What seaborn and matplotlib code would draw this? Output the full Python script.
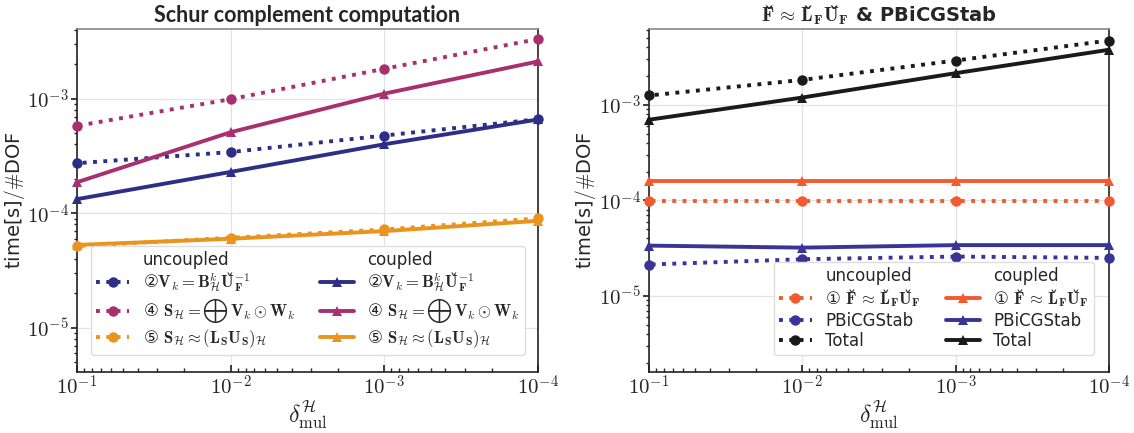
import numpy as np
import pandas as pd
import matplotlib
matplotlib.use("Agg")
import matplotlib.pyplot as plt
from matplotlib.lines import Line2D
import seaborn as sns

# ---------------- data ----------------
delta = [1e-1, 1e-2, 1e-3, 1e-4]

# left panel: Schur complement computation
unc_V = [2.74e-4, 3.43e-4, 4.78e-4, 6.64e-4]
unc_S = [5.81e-4, 9.93e-4, 1.83e-3, 3.33e-3]
unc_LU = [5.18e-5, 6.12e-5, 7.24e-5, 9.04e-5]
cou_V = [1.33e-4, 2.30e-4, 4.01e-4, 6.60e-4]
cou_S = [1.87e-4, 5.11e-4, 1.11e-3, 2.12e-3]
cou_LU = [5.30e-5, 6.00e-5, 7.00e-5, 8.60e-5]

# right panel: F ~ LU & PBiCGStab
unc_F = [9.8e-5, 9.8e-5, 9.8e-5, 9.8e-5]
unc_P = [2.13e-5, 2.42e-5, 2.58e-5, 2.50e-5]
unc_T = [1.25e-3, 1.82e-3, 2.90e-3, 4.70e-3]
cou_F = [1.58e-4, 1.58e-4, 1.58e-4, 1.58e-4]
cou_P = [3.36e-5, 3.20e-5, 3.40e-5, 3.40e-5]
cou_T = [6.97e-4, 1.19e-3, 2.14e-3, 3.76e-3]

CARON = "\u030C"  # combining caron, placed right after the bold letter
lbl_V = ("②$\\mathbf{V}_k = \\mathbf{B}^k_{\\mathcal{H}}\\mathbf{U}$" + CARON +
         "$_{\\mathbf{F}}^{-1}$")
lbl_S = r"④ $\mathbf{S}_{\mathcal{H}} = \bigoplus\,\mathbf{V}_k \odot \mathbf{W}_k$"
lbl_LU = r"⑤ $\mathbf{S}_{\mathcal{H}} \approx (\mathbf{L}_{\mathbf{S}}\mathbf{U}_{\mathbf{S}})_{\mathcal{H}}$"
FLU = ("$\\mathbf{F}$" + CARON + "$\\,\\approx\\,\\mathbf{L}$" + CARON +
       "$_{\\mathbf{F}}\\mathbf{U}$" + CARON + "$_{\\mathbf{F}}$")
lbl_F = "① " + FLU
lbl_P = "PBiCGStab"
lbl_T = "Total"

title_left = "Schur complement computation"
title_right = FLU + " & PBiCGStab"

c_blue = "#2c2f85"
c_mag = "#a8306e"
c_ora = "#e8941e"
c_red = "#f25a30"
c_pur = "#3a3496"
c_blk = "#1a1a1a"

# ---------------- style ----------------
sns.set_theme(style="whitegrid")
plt.rcParams["font.family"] = ["DejaVu Sans"]
plt.rcParams["mathtext.fontset"] = "cm"
plt.rcParams["axes.edgecolor"] = "#222222"
plt.rcParams["grid.color"] = "#e3e3e3"

fig = plt.figure(figsize=(11.34, 4.33), dpi=100)
axL = fig.add_axes([0.0679, 0.1409, 0.4065, 0.7921])
axR = fig.add_axes([0.5723, 0.1409, 0.4056, 0.7921])

lw = 2.8
ms = 7.5


def draw(ax, y, color, coupled):
    df = pd.DataFrame({"x": delta, "y": y})
    sns.lineplot(data=df, x="x", y="y", ax=ax, color=color,
                 linestyle="-" if coupled else ":",
                 marker="^" if coupled else "o",
                 markersize=ms, markeredgewidth=0, linewidth=lw,
                 legend=False, zorder=3, clip_on=False)


def handle(color, coupled):
    return Line2D([], [], color=color, linestyle="-" if coupled else ":",
                  marker="^" if coupled else "o", markersize=ms,
                  markeredgewidth=0, linewidth=lw)


blank = Line2D([], [], color="none", linestyle="none")

# left panel
for y, c in [(unc_V, c_blue), (unc_S, c_mag), (unc_LU, c_ora)]:
    draw(axL, y, c, False)
for y, c in [(cou_V, c_blue), (cou_S, c_mag), (cou_LU, c_ora)]:
    draw(axL, y, c, True)

# right panel
for y, c in [(unc_F, c_red), (unc_P, c_pur), (unc_T, c_blk)]:
    draw(axR, y, c, False)
for y, c in [(cou_F, c_red), (cou_P, c_pur), (cou_T, c_blk)]:
    draw(axR, y, c, True)

for ax, ylim in [(axL, (4.12e-6, 4.07e-3)), (axR, (1.6e-6, 6.2e-3))]:
    ax.set_xscale("log")
    ax.set_yscale("log")
    ax.set_xlim(1e-1, 1e-4)
    ax.set_ylim(*ylim)
    ax.set_xticks(delta)
    ax.set_xticklabels([r"$10^{-1}$", r"$10^{-2}$", r"$10^{-3}$", r"$10^{-4}$"])
    ax.set_yticks([1e-5, 1e-4, 1e-3])
    ax.set_yticklabels([r"$10^{-5}$", r"$10^{-4}$", r"$10^{-3}$"])
    ax.tick_params(axis="both", which="major", labelsize=15, pad=2)
    ax.tick_params(axis="x", which="both", direction="in", bottom=True, length=5)
    ax.tick_params(axis="x", which="minor", length=3)
    ax.tick_params(axis="y", which="both", direction="out", left=True, length=4)
    ax.tick_params(axis="y", which="minor", length=2.5)
    ax.grid(True, which="major", color="#e3e3e3", linewidth=0.9)
    ax.grid(False, which="minor")
    ax.set_xlabel(r"$\delta^{\mathcal{H}}_{\mathrm{mul}}$", fontsize=17, labelpad=0)
    ax.set_ylabel(r"time[s]$/\#$DOF", fontsize=14)
    for s in ["left", "bottom", "right"]:
        ax.spines[s].set_color("#222222")
        ax.spines[s].set_linewidth(1.2)
    ax.spines["top"].set_color("#888888")
    ax.spines["top"].set_linewidth(1.2)

axL.yaxis.set_label_coords(-0.108, 0.5)
axR.yaxis.set_label_coords(-0.111, 0.5)
axL.set_title(title_left, fontsize=15.5, fontweight="bold", pad=5, family="Lato")
axR.set_title(title_right, fontsize=14, fontweight="bold", pad=5)

leg_kw = dict(ncol=2, handlelength=2.0, handletextpad=0.8, columnspacing=1.5,
              labelspacing=0.15, borderpad=0.3, frameon=True, framealpha=1,
              prop={"family": ["DejaVu Sans"], "size": 12})

hL = [blank, handle(c_blue, False), handle(c_mag, False), handle(c_ora, False),
      blank, handle(c_blue, True), handle(c_mag, True), handle(c_ora, True)]
lL = ["uncoupled", lbl_V, lbl_S, lbl_LU, "coupled", lbl_V, lbl_S, lbl_LU]
legL = axL.legend(hL, lL, loc="lower left", bbox_to_anchor=(0.012, 0.025), **leg_kw)
legL.get_frame().set_edgecolor("#dddddd")

hR = [blank, handle(c_red, False), handle(c_pur, False), handle(c_blk, False),
      blank, handle(c_red, True), handle(c_pur, True), handle(c_blk, True)]
lR = ["uncoupled", lbl_F, lbl_P, lbl_T, "coupled", lbl_F, lbl_P, lbl_T]
legR = axR.legend(hR, lR, loc="lower right", bbox_to_anchor=(0.985, 0.025), **leg_kw)
legR.get_frame().set_edgecolor("#dddddd")

fig.savefig("out.png", dpi=100)
